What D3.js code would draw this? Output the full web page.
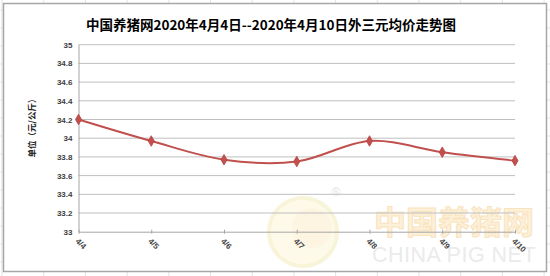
<!DOCTYPE html>
<html>
<head>
<meta charset="utf-8">
<script src="https://cdn.jsdelivr.net/npm/d3@7"></script>
<style>
  body { margin: 0; background: #fff; }
  svg { display: block; }
</style>
</head>
<body>
<svg id="chart" width="550" height="276"></svg>
<script>
// data
var dates = ["4/4", "4/5", "4/6", "4/7", "4/8", "4/9", "4/10"];
var prices = [34.2, 33.97, 33.77, 33.75, 33.97, 33.85, 33.76];
var yTicks = [33, 33.2, 33.4, 33.6, 33.8, 34, 34.2, 34.4, 34.6, 34.8, 35];
var title = "中国养猪网2020年4月4日--2020年4月10日外三元均价走势图";
var yTitle = "单位（元/公斤）";

var W = 550, H = 276;
var svg = d3.select("#chart");

// excel sheet grid showing behind the chart
var sheet = svg.append("g").attr("stroke", "#e3e3e3").attr("stroke-width", 1);
d3.range(2, W, 41.7).forEach(function(gx){
  sheet.append("line").attr("x1", gx).attr("x2", gx).attr("y1", 0).attr("y2", H);
});
d3.range(10, H, 18).forEach(function(gy){
  sheet.append("line").attr("x1", 0).attr("x2", W).attr("y1", gy).attr("y2", gy);
});

// chart box
svg.append("rect")
  .attr("x", 3.5).attr("y", 3.5)
  .attr("width", 543).attr("height", 268)
  .attr("fill", "#fff")
  .attr("stroke", "#a6a6a6")
  .attr("stroke-width", 1.5);

var plotLeft = 78.5, plotRight = 515, plotTop = 44.7, plotBottom = 231.7;

var x = d3.scalePoint().domain(dates).range([plotLeft, plotRight]);
var y = d3.scaleLinear().domain([33, 35]).range([plotBottom, plotTop]);

// watermark
var wm = svg.append("g");
wm.append("circle").attr("cx", 303).attr("cy", 232).attr("r", 34)
  .attr("fill", "#fdfaea").attr("stroke", "#f8f4d8").attr("stroke-width", 4);
wm.append("circle").attr("cx", 312).attr("cy", 228).attr("r", 20)
  .attr("fill", "#fef4e2");
wm.append("text").attr("x", 330).attr("y", 196)
  .attr("font-family", "DejaVu Sans").attr("font-size", 12)
  .attr("fill", "#e6e6e6").text("®");
wm.append("text").attr("x", 454).attr("y", 234)
  .attr("text-anchor", "middle")
  .attr("font-family", "Noto Sans CJK SC").attr("font-weight", "bold")
  .attr("font-size", 32)
  .attr("fill", "#fdf0d8").attr("stroke", "#f9e3bd").attr("stroke-width", 1)
  .text("中国养猪网");
wm.append("text").attr("x", 454).attr("y", 262)
  .attr("text-anchor", "middle")
  .attr("font-family", "Liberation Sans")
  .attr("font-size", 21.5).attr("letter-spacing", 0.5)
  .attr("fill", "#ebebeb")
  .text("CHINA PIG NET");

// gridlines
svg.append("g")
  .selectAll("line")
  .data(yTicks.slice(1))
  .join("line")
  .attr("x1", plotLeft).attr("x2", plotRight)
  .attr("y1", function(d){ return y(d); })
  .attr("y2", function(d){ return y(d); })
  .attr("stroke", "#bfbfbf").attr("stroke-width", 1);

// y axis
var yAxis = svg.append("g")
  .attr("transform", "translate(" + plotLeft + ",0)")
  .call(d3.axisLeft(y).tickValues(yTicks).tickSize(0).tickPadding(6).tickFormat(d3.format("")));
yAxis.select(".domain").attr("stroke", "#a6a6a6");
yAxis.selectAll("text")
  .attr("font-family", "Liberation Sans").attr("font-size", 8)
  .attr("fill", "#404040").attr("font-weight", "bold");

// x axis
var xAxis = svg.append("g")
  .attr("transform", "translate(0," + plotBottom + ")")
  .call(d3.axisBottom(x).tickSizeInner(-3).tickSizeOuter(0).tickPadding(0));
xAxis.select(".domain").attr("stroke", "#a6a6a6");
xAxis.selectAll(".tick line").attr("stroke", "#a6a6a6").attr("y2", 2).attr("y1", -2);
xAxis.selectAll("text")
  .attr("font-family", "Liberation Sans").attr("font-size", 8)
  .attr("fill", "#404040").attr("font-weight", "bold")
  .attr("text-anchor", "start")
  .attr("y", 0)
  .attr("dy", "0.35em")
  .attr("transform", "translate(-2,8) rotate(45)");

// line
var line = d3.line()
  .x(function(d, i){ return x(dates[i]); })
  .y(function(d){ return y(d); })
  .curve(d3.curveCardinal.tension(0));

svg.append("path")
  .datum(prices)
  .attr("d", line)
  .attr("fill", "none")
  .attr("stroke", "#c0504d")
  .attr("stroke-width", 2);

svg.append("g")
  .selectAll("path")
  .data(prices)
  .join("path")
  .attr("transform", function(d, i){ return "translate(" + x(dates[i]) + "," + y(d) + ")"; })
  .attr("d", d3.symbol().type(d3.symbolDiamond).size(32))
  .attr("fill", "#c0504d")
  .attr("stroke", "#b8433f").attr("stroke-width", 0.8);

// titles
svg.append("text")
  .attr("x", 271).attr("y", 30)
  .attr("text-anchor", "middle")
  .attr("font-family", "Noto Sans CJK SC").attr("font-weight", "bold")
  .attr("font-size", 13.5).attr("fill", "#000")
  .text(title);

svg.append("text")
  .attr("transform", "translate(35,126) rotate(-90)")
  .attr("text-anchor", "middle")
  .attr("font-family", "Noto Sans CJK SC").attr("font-weight", "bold")
  .attr("font-size", 8.5).attr("fill", "#222")
  .text(yTitle);
</script>
</body>
</html>
